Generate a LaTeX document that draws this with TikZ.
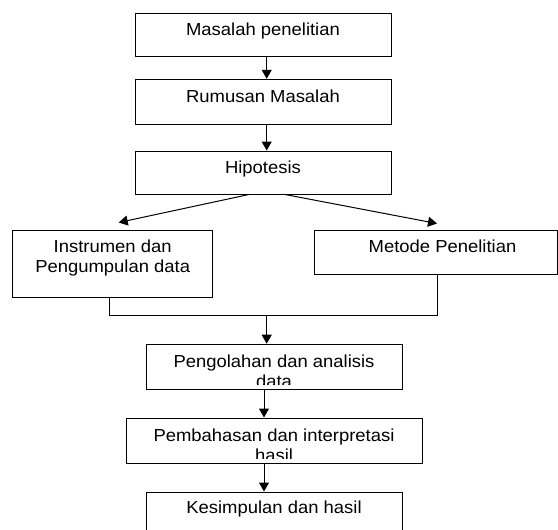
\documentclass[tikz,border=0pt]{standalone}
\usepackage{fontspec}
\setmainfont{Liberation Sans}[FakeStretch=1.06]
\usetikzlibrary{arrows.meta}

\begin{document}
\begin{tikzpicture}[x=1pt, y=-1pt,
    box/.style={draw=black, line width=1pt, inner sep=0pt},
    txt/.style={anchor=north, inner sep=0pt, align=center,
                font=\fontsize{17.4}{20}\selectfont},
    arrow/.style={-{Triangle[length=9pt, width=10pt]}, line width=1pt},
    line/.style={line width=1pt}
  ]
    \clip (0,0) rectangle (558,530);

    % boxes (centres in pixel coordinates)
    \node[box, minimum width=256pt, minimum height=43pt] (masalah)    at (263, 34.5)  {};
    \node[box, minimum width=256pt, minimum height=45pt] (rumusan)    at (263, 101.8) {};
    \node[box, minimum width=256pt, minimum height=43pt] (hipotesis)  at (263, 172.5) {};
    \node[box, minimum width=200pt, minimum height=67pt] (instrumen)  at (112.7, 263.5) {};
    \node[box, minimum width=243pt, minimum height=44pt] (metode)     at (435.5, 252) {};
    \node[box, minimum width=256pt, minimum height=45pt] (pengolahan) at (274, 366.7) {};
    \node[box, minimum width=296pt, minimum height=45pt] (pembahasan) at (274, 440.5) {};
    \node[box, minimum width=256pt, minimum height=48pt] (kesimpulan) at (274, 516) {};

    % texts, hung from the top of each box
    \node[txt] at ([yshift=-10pt]masalah.north)   {Masalah penelitian};
    \node[txt] at ([yshift=-11pt]rumusan.north)   {Rumusan Masalah};
    \node[txt] at ([yshift=-10.3pt]hipotesis.north) {Hipotesis};
    \node[txt] at ([yshift=-10pt]instrumen.north) {Instrumen dan\\Pengumpulan data};
    \node[txt] at ([yshift=-10pt,xshift=7pt]metode.north) {Metode Penelitian};
    \begin{scope}
      \clip (pengolahan.north west) rectangle ([yshift=5.5pt]pengolahan.south east);
      \node[txt] at ([yshift=-11pt]pengolahan.north) {Pengolahan dan analisis\\data};
    \end{scope}
    \begin{scope}
      \clip (pembahasan.north west) rectangle ([yshift=5.5pt]pembahasan.south east);
      \node[txt] at ([yshift=-11pt]pembahasan.north) {Pembahasan dan interpretasi\\hasil};
    \end{scope}
    \node[txt] at ([yshift=-9.5pt]kesimpulan.north) {Kesimpulan dan hasil};

    % connectors
    \coordinate (spine)    at (266.7, 0);
    \coordinate (lowspine) at (264, 0);
    \coordinate (joinL)    at (109, 315.3);
    \coordinate (joinR)    at (437, 315.3);
    \coordinate (joinM)    at (266.7, 315.3);

    \draw[arrow] (masalah.south -| spine) -- (rumusan.north -| spine);
    \draw[arrow] (rumusan.south -| spine) -- (hipotesis.north -| spine);
    \draw[arrow] ([xshift=-14pt]hipotesis.south) -- ([xshift=6pt,yshift=7pt]instrumen.north);
    \draw[arrow] ([xshift=22pt]hipotesis.south) -- ([xshift=1.5pt,yshift=6pt]metode.north);

    \draw[line] (instrumen.south -| joinL) -- (joinL) -- (joinR) -- (metode.south -| joinR);
    \draw[arrow] (joinM) -- (pengolahan.north -| joinM);

    \draw[arrow] (pengolahan.south -| lowspine) -- (pembahasan.north -| lowspine);
    \draw[arrow] (pembahasan.south -| lowspine) -- (kesimpulan.north -| lowspine);
\end{tikzpicture}
\end{document}
